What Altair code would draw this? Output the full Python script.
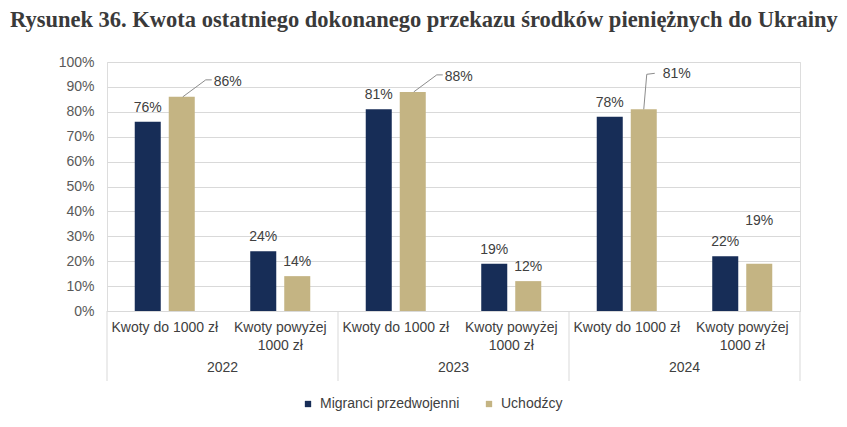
import altair as alt
import pandas as pd

# ---- data ----
years = ["2022", "2023", "2024"]
categories = ["Kwoty do 1000 zł", "Kwoty powyżej 1000 zł"]
series = ["Migranci przedwojenni", "Uchodźcy"]
migranci = [76, 24, 81, 19, 78, 22]
uchodzcy = [86, 14, 88, 12, 81, 19]
y_ticks = [0, 10, 20, 30, 40, 50, 60, 70, 80, 90, 100]

navy = "#172d57"
khaki = "#c4b483"
txt = "#404040"
grid = "#d9d9d9"

rows = []
slots = []
k = 0
for y in years:
    for c in categories:
        slot = f"{y}|{c}"
        slots.append(slot)
        for s, vals in zip(series, [migranci, uchodzcy]):
            rows.append({"year": y, "category": c, "series": s, "slot": slot,
                         "value": vals[k], "label": f"{vals[k]}%"})
        k += 1
df = pd.DataFrame(rows)

W, H = 693, 249
FONT = "Liberation Sans"

x_enc = alt.X("slot:N", sort=slots,
              scale=alt.Scale(paddingInner=0, paddingOuter=0),
              axis=alt.Axis(title=None, ticks=False, domainColor=grid,
                            labelFont=FONT, labelFontSize=14, labelColor=txt,
                            labelPadding=9, labelLineHeight=18, labelOverlap=False,
                            labelAngle=0, labelBaseline="top",
                            labelExpr="split(datum.value,'|')[1] == 'Kwoty powyżej 1000 zł' ? ['Kwoty powyżej','1000 zł'] : split(datum.value,'|')[1]"))
xoff = alt.XOffset("series:N", sort=series,
                   scale=alt.Scale(paddingInner=0.235, paddingOuter=0.816))
y_axis = alt.Axis(title=None, values=y_ticks, tickCount=len(y_ticks) + 1,
                  labelExpr="datum.value + '%'", domain=False, ticks=False,
                  gridColor=grid, labelFont=FONT, labelFontSize=14,
                  labelColor="#595959", labelPadding=13, labelOverlap=False)
y_scale = alt.Scale(domain=[0, 100], nice=False)
y_enc = alt.Y("value:Q", scale=y_scale, axis=y_axis)
y2_enc = alt.Y2("value")
x_plain = alt.X("slot:N", sort=slots)

base = alt.Chart(df)

bars = base.mark_bar().encode(
    x=x_enc, xOffset=xoff, y=y_enc,
    color=alt.Color("series:N", sort=series,
                    scale=alt.Scale(domain=series, range=[navy, khaki]),
                    legend=alt.Legend(title=None, orient="none", legendX=194, legendY=335,
                                      direction="horizontal", symbolType="square",
                                      symbolSize=40, labelFont=FONT, labelFontSize=14,
                                      labelColor=txt, columnPadding=22, labelOffset=5)),
)

special = ("datum.series == 'Uchodźcy' && (datum.category == 'Kwoty do 1000 zł' || "
           "(datum.year == '2024'))")

def text_layer(flt, **kw):
    return base.transform_filter(flt).mark_text(
        font=FONT, fontSize=14, color=txt, baseline="middle", **kw).encode(
        x=x_plain, xOffset=xoff, y=y_enc, text="label:N")

labels_normal = text_layer("!(" + special + ")", dy=-14)
lab_a = text_layer("datum.series == 'Uchodźcy' && datum.category == 'Kwoty do 1000 zł' && datum.year != '2024'",
                   dx=46, dy=-15)
lab_b = text_layer("datum.series == 'Uchodźcy' && datum.category == 'Kwoty do 1000 zł' && datum.year == '2024'",
                   dx=33, dy=-35)
lab_c = text_layer("datum.series == 'Uchodźcy' && datum.category != 'Kwoty do 1000 zł' && datum.year == '2024'",
                   dy=-43)

lead_filter_a = "datum.series == 'Uchodźcy' && datum.category == 'Kwoty do 1000 zł' && datum.year != '2024'"
lead_filter_b = "datum.series == 'Uchodźcy' && datum.category == 'Kwoty do 1000 zł' && datum.year == '2024'"
lead_enc = dict(x=x_plain, x2=alt.X2("slot"), y=y_enc, y2=y2_enc)
lc = "#8c8c8c"
lead_a1 = base.transform_filter(lead_filter_a).mark_rule(
    color=lc, strokeWidth=1, xOffset=18, x2Offset=41, y2Offset=-17).encode(**lead_enc)
lead_a2 = base.transform_filter(lead_filter_a).mark_rule(
    color=lc, strokeWidth=1, xOffset=41, x2Offset=47, yOffset=-17, y2Offset=-17).encode(**lead_enc)
lead_b1 = base.transform_filter(lead_filter_b).mark_rule(
    color=lc, strokeWidth=1, xOffset=17, x2Offset=20, y2Offset=-35).encode(**lead_enc)
lead_b2 = base.transform_filter(lead_filter_b).mark_rule(
    color=lc, strokeWidth=1, xOffset=20, x2Offset=28, yOffset=-35, y2Offset=-36).encode(**lead_enc)

first_filter = "datum.series == 'Migranci przedwojenni' && datum.category == 'Kwoty do 1000 zł'"
sep_start = base.transform_filter(first_filter).mark_rule(color=grid, strokeWidth=1).encode(
    x=alt.X("slot:N", sort=slots, bandPosition=0),
    y=alt.value(H), y2=alt.value(H + 70))
sep_end = base.transform_filter(
    "datum.series == 'Migranci przedwojenni' && datum.slot == '2024|Kwoty powyżej 1000 zł'"
).mark_rule(color=grid, strokeWidth=1).encode(
    x=alt.X("slot:N", sort=slots, bandPosition=1),
    y=alt.value(H), y2=alt.value(H + 70))

year_labels = base.transform_filter(
    "datum.series == 'Migranci przedwojenni' && datum.category == 'Kwoty powyżej 1000 zł'"
).mark_text(font=FONT, fontSize=14, color=txt, baseline="middle").encode(
    x=alt.X("slot:N", sort=slots, bandPosition=0),
    y=alt.value(H + 57), text="year:N")

chart = alt.layer(
    bars, labels_normal, lab_a, lab_b, lab_c,
    lead_a1, lead_a2, lead_b1, lead_b2,
    sep_start, sep_end, year_labels
).properties(
    width=W, height=H,
    title=alt.TitleParams(
        "Rysunek 36. Kwota ostatniego dokonanego przekazu środków pieniężnych do Ukrainy",
        font="Liberation Serif", fontSize=22.5, fontWeight="bold", color="#3a3a3a",
        anchor="start", frame="group", dx=-97, offset=24),
    autosize=alt.AutoSizeParams(type="none"),
    padding={"left": 107, "top": 62, "right": 47, "bottom": 116},
).configure_view(stroke=None).configure(background="white")

chart.save("out.html", embed_options={"renderer": "svg", "actions": False})
